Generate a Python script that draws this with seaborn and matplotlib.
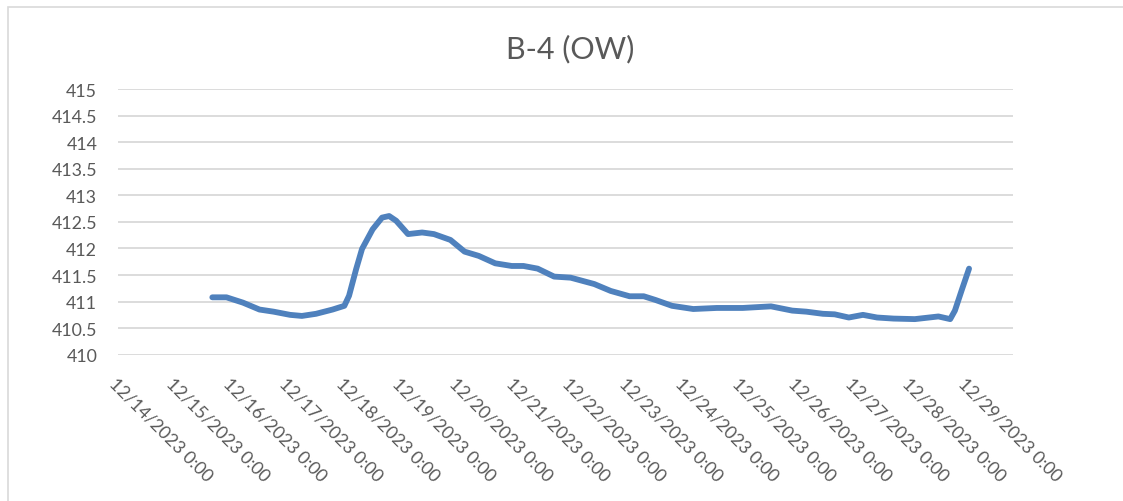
import matplotlib
matplotlib.use('Agg')
import matplotlib.pyplot as plt
from matplotlib.patches import Rectangle
import pandas as pd
import seaborn as sns

# readings (timestamp, water level)
times = [
    '2023-12-15 16:00', '2023-12-15 22:00', '2023-12-16 05:00', '2023-12-16 12:00',
    '2023-12-16 18:00', '2023-12-17 01:00', '2023-12-17 06:00', '2023-12-17 12:00',
    '2023-12-17 19:00', '2023-12-18 00:00', '2023-12-18 02:00', '2023-12-18 05:00',
    '2023-12-18 07:30', '2023-12-18 12:00', '2023-12-18 16:00', '2023-12-18 19:00',
    '2023-12-18 22:00', '2023-12-19 03:00', '2023-12-19 09:00', '2023-12-19 14:00',
    '2023-12-19 21:00', '2023-12-20 03:00', '2023-12-20 09:00', '2023-12-20 16:00',
    '2023-12-20 23:00', '2023-12-21 04:00', '2023-12-21 10:00', '2023-12-21 17:00',
    '2023-12-22 00:00', '2023-12-22 10:00', '2023-12-22 17:00', '2023-12-23 01:00',
    '2023-12-23 07:00', '2023-12-23 12:00', '2023-12-23 19:00', '2023-12-24 04:00',
    '2023-12-24 14:00', '2023-12-25 01:00', '2023-12-25 13:00', '2023-12-25 22:00',
    '2023-12-26 04:00', '2023-12-26 11:00', '2023-12-26 16:00', '2023-12-26 22:00',
    '2023-12-27 04:00', '2023-12-27 10:00', '2023-12-27 17:00', '2023-12-28 02:00',
    '2023-12-28 12:00', '2023-12-28 17:00', '2023-12-28 19:00', '2023-12-28 22:00',
    '2023-12-29 01:00',
]
levels = [
    411.08, 411.08, 410.98, 410.85, 410.81, 410.75, 410.73, 410.77,
    410.85, 410.92, 411.11, 411.61, 411.99, 412.36, 412.58, 412.61,
    412.52, 412.27, 412.30, 412.27, 412.16, 411.94, 411.86, 411.72,
    411.67, 411.67, 411.62, 411.47, 411.45, 411.33, 411.20, 411.10,
    411.10, 411.03, 410.92, 410.86, 410.88, 410.88, 410.91, 410.83,
    410.81, 410.77, 410.76, 410.70, 410.75, 410.70, 410.68, 410.67,
    410.72, 410.67, 410.83, 411.23, 411.62,
]
tick_dates = pd.date_range('2023-12-14', '2023-12-29', freq='D')
y_ticks = [410, 410.5, 411, 411.5, 412, 412.5, 413, 413.5, 414, 414.5, 415]
title = 'B-4 (OW)'

df = pd.DataFrame({'time': pd.to_datetime(times), 'level': levels})

sns.set_style('white')
plt.rcParams['font.family'] = ['Lato', 'DejaVu Sans']

text_col = '#595959'
grid_col = '#d9d9d9'

fig = plt.figure(figsize=(11.23, 5.02), dpi=100)
ax = fig.add_axes([0.1051, 0.2914, 0.797, 0.5293])

sns.lineplot(data=df, x='time', y='level', ax=ax, color='#4F81BD',
             linewidth=4.2, solid_capstyle='round', solid_joinstyle='round')

ax.set_ylim(410, 415)
ax.set_yticks(y_ticks)
ax.set_yticklabels([f'{v:g}' for v in y_ticks])
ax.set_xlim(pd.Timestamp('2023-12-14 03:00'), pd.Timestamp('2023-12-29 19:40'))
ax.set_xticks(tick_dates)
ax.set_xticklabels([d.strftime('%m/%d/%Y') + ' 0:00' for d in tick_dates],
                   rotation=-45, ha='left', va='top', rotation_mode='anchor')

ax.grid(axis='y', color=grid_col, linewidth=1.3)
ax.grid(axis='x', visible=False)
ax.set_axisbelow(True)
for s in ax.spines.values():
    s.set_visible(False)
ax.tick_params(axis='y', length=0, pad=15, labelsize=12.8, labelcolor=text_col)
ax.tick_params(axis='x', length=0, pad=14, labelsize=12.8, labelcolor=text_col)
ax.set_xlabel('')
ax.set_ylabel('')

fig.text(0.5076, 0.8845, title, ha='center', va='baseline',
         fontsize=22, color=text_col)

# chart area border
fig.patches.append(Rectangle((8 / 1123, -0.1), 1.2, 1.1 - 8 / 502,
                             transform=fig.transFigure, fill=False,
                             edgecolor=grid_col, linewidth=1.2))

fig.savefig('out.png', dpi=100)
